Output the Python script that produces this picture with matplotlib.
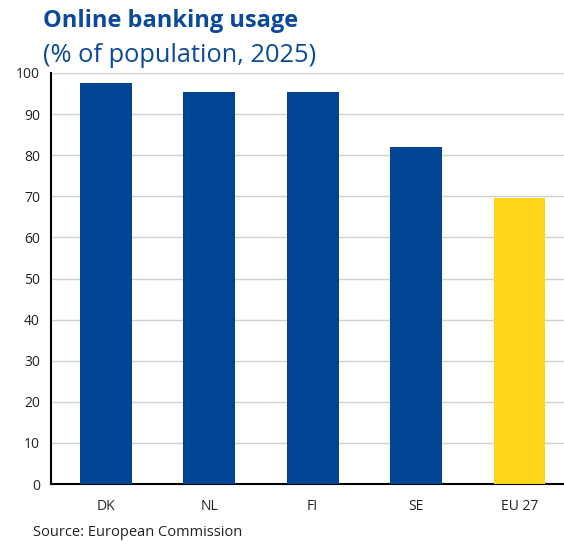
import matplotlib.pyplot as plt

# data
paises = ['DK', 'NL', 'FI', 'SE', 'EU 27']
uso = [97.6, 95.4, 95.4, 82.0, 69.6]
cores = ['#004494', '#004494', '#004494', '#004494', '#FFD617']
yticks = [0, 10, 20, 30, 40, 50, 60, 70, 80, 90, 100]

plt.rcParams['font.family'] = ['Open Sans', 'DejaVu Sans']

fig = plt.figure(figsize=(5.64, 5.41), dpi=100)
ax = fig.add_axes([51 / 564, 1 - 484 / 541, 1 - 51 / 564, 411 / 541])

ax.bar(range(len(paises)), uso, width=0.5, color=cores, zorder=3)
ax.set_xlim(-0.53, 4.43)
ax.set_ylim(0, 100)
ax.set_yticks(yticks)
ax.set_xticks(range(len(paises)))
ax.set_xticklabels(paises)
ax.grid(axis='y', color='#d0d0d0', linewidth=1, zorder=0)
ax.tick_params(axis='both', length=0, labelsize=10, colors='#222222')
ax.tick_params(axis='x', pad=11)
ax.tick_params(axis='y', pad=8)
for s in ['top', 'right']:
    ax.spines[s].set_visible(False)
ax.spines['left'].set_color('black')
ax.spines['bottom'].set_color('black')
ax.spines['left'].set_linewidth(1.5)
ax.spines['bottom'].set_linewidth(1.5)

fig.text(43 / 564, 1 - 21 / 541, 'Online banking usage', fontsize=17, fontweight='bold',
         color='#0B4A9A', va='center', ha='left')
fig.text(43 / 564, 1 - 56 / 541, '(% of population, 2025)', fontsize=18.3,
         color='#0B4A9A', va='center', ha='left')
fig.text(33 / 564, 1 - 532 / 541, 'Source: European Commission', fontsize=10.5,
         color='#222222', va='center', ha='left')

fig.savefig('out.png', dpi=100)
